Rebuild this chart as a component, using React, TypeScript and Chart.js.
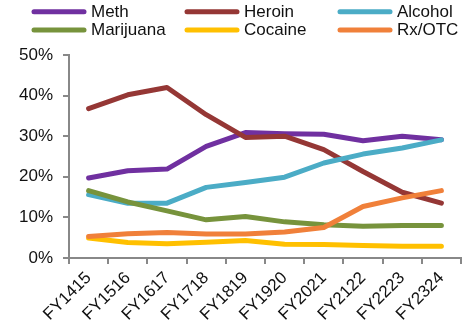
import { useEffect, useRef } from 'react';
import { Chart, registerables } from 'chart.js';
Chart.register(...registerables);

const categories = ['FY1415', 'FY1516', 'FY1617', 'FY1718', 'FY1819', 'FY1920', 'FY2021', 'FY2122', 'FY2223', 'FY2324'];
const meth = [19.7, 21.5, 21.9, 27.5, 30.9, 30.6, 30.5, 28.9, 30.0, 29.1];
const heroin = [36.8, 40.2, 42.0, 35.3, 29.7, 30.0, 26.7, 21.3, 16.2, 13.5];
const alcohol = [15.6, 13.5, 13.5, 17.4, 18.6, 19.9, 23.4, 25.6, 27.1, 29.1];
const marijuana = [16.6, 13.8, 11.6, 9.4, 10.2, 8.9, 8.2, 7.8, 8.0, 8.0];
const cocaine = [4.9, 3.8, 3.5, 3.9, 4.3, 3.4, 3.3, 3.1, 2.9, 2.9];
const rxotc = [5.3, 6.0, 6.3, 5.9, 5.9, 6.4, 7.5, 12.7, 14.8, 16.6];

const seriesNames = ['Meth', 'Heroin', 'Alcohol', 'Marijuana', 'Cocaine', 'Rx/OTC'];
const seriesData = [meth, heroin, alcohol, marijuana, cocaine, rxotc];
const seriesColors = ['#7030A0', '#953735', '#4BACC6', '#77933C', '#FFC000', '#F0803A'];

const FONT = '"Liberation Sans", Arial, sans-serif';

const legendPlugin = {
  id: 'gridLegend',
  afterDraw(chart: any) {
    const ctx = chart.ctx;
    const cols = [34, 187, 340];
    const rows = [11.7, 30];
    ctx.save();
    seriesNames.forEach((name, i) => {
      const x = cols[i % 3];
      const y = rows[Math.floor(i / 3)];
      ctx.beginPath();
      ctx.strokeStyle = seriesColors[i];
      ctx.lineWidth = 5;
      ctx.lineCap = 'round';
      ctx.moveTo(x, y);
      ctx.lineTo(x + 50, y);
      ctx.stroke();
      ctx.fillStyle = '#111';
      ctx.font = '17px ' + FONT;
      ctx.textBaseline = 'middle';
      ctx.textAlign = 'left';
      ctx.fillText(name, x + 57, y + 0.5);
    });
    ctx.restore();
  },
};

export default function App() {
  const ref = useRef<HTMLCanvasElement>(null);
  useEffect(() => {
    if (!ref.current) return;
    const chart = new Chart(ref.current, {
      type: 'line',
      data: {
        labels: categories,
        datasets: seriesNames.map((name, i) => ({
          label: name,
          data: seriesData[i],
          borderColor: seriesColors[i],
          backgroundColor: seriesColors[i],
          borderWidth: 5,
          borderCapStyle: 'round',
          borderJoinStyle: 'round',
          pointRadius: 0,
          tension: 0,
          fill: false,
          order: seriesNames.length - i,
        })),
      },
      options: {
        responsive: false,
        animation: false,
        layout: { padding: { top: 55, right: 8, left: 0, bottom: 0 } },
        plugins: {
          legend: { display: false },
          tooltip: { enabled: false },
          title: { display: false },
        },
        scales: {
          x: {
            offset: true,
            grid: {
              offset: true,
              drawOnChartArea: false,
              drawTicks: true,
              tickLength: 6,
              color: '#888',
              lineWidth: 2,
            },
            border: { color: '#888', width: 2 },
            ticks: {
              color: '#111',
              font: { family: FONT, size: 17 },
              minRotation: 45,
              maxRotation: 45,
              padding: 4,
            },
            afterFit: (scale: any) => {
              scale.height = 78;
            },
          },
          y: {
            min: 0,
            max: 50,
            grid: {
              drawOnChartArea: false,
              drawTicks: true,
              tickLength: 6,
              color: '#888',
              lineWidth: 2,
            },
            border: { color: '#888', width: 2 },
            ticks: {
              stepSize: 10,
              color: '#111',
              font: { family: FONT, size: 17 },
              padding: 10,
              callback: (v: any) => v + '%',
            },
            afterFit: (scale: any) => {
              scale.width = 69;
            },
          },
        },
      },
      plugins: [legendPlugin],
    } as any);
    return () => chart.destroy();
  }, []);
  return (
    <div style={{ position: 'absolute', left: 0, top: 0, width: 469, height: 336, background: '#fff' }}>
      <canvas ref={ref} width={469} height={336} />
    </div>
  );
}
